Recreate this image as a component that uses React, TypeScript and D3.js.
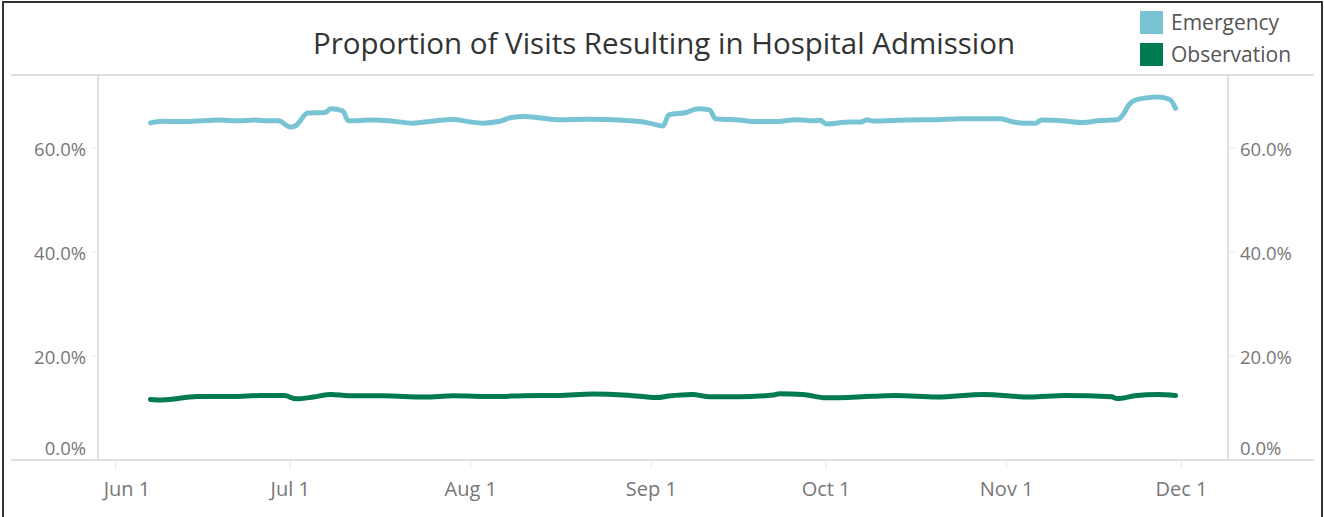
import React from "react";
import * as d3 from "d3";

const W = 1324;
const H = 517;

const title = "Proportion of Visits Resulting in Hospital Admission";
const seriesNames = ["Emergency", "Observation"];
const seriesColors = ["#78c4d5", "#007a53"];

// [date, percent]
const emergency: [string, number][] = [
  ["2021-06-07", 64.8], ["2021-06-09", 65.1], ["2021-06-13", 65.05], ["2021-06-19", 65.35],
  ["2021-06-22", 65.2], ["2021-06-25", 65.35], ["2021-06-27", 65.2], ["2021-06-29", 65.2],
  ["2021-07-01", 64.0], ["2021-07-02", 64.3], ["2021-07-04", 66.7], ["2021-07-07", 66.8],
  ["2021-07-08", 67.5], ["2021-07-10", 67.1], ["2021-07-11", 65.2], ["2021-07-15", 65.35],
  ["2021-07-18", 65.2], ["2021-07-22", 64.75], ["2021-07-26", 65.2], ["2021-07-29", 65.45],
  ["2021-08-01", 64.95], ["2021-08-03", 64.75], ["2021-08-06", 65.1], ["2021-08-08", 65.85],
  ["2021-08-10", 66.0], ["2021-08-13", 65.75], ["2021-08-16", 65.4], ["2021-08-21", 65.5],
  ["2021-08-24", 65.45], ["2021-08-27", 65.3], ["2021-08-30", 65.05], ["2021-09-01", 64.65],
  ["2021-09-03", 64.2], ["2021-09-04", 66.35], ["2021-09-07", 66.8], ["2021-09-09", 67.5],
  ["2021-09-11", 67.3], ["2021-09-12", 65.6], ["2021-09-16", 65.35], ["2021-09-19", 65.05],
  ["2021-09-22", 65.05], ["2021-09-26", 65.4], ["2021-09-29", 65.2], ["2021-09-30", 65.3],
  ["2021-10-01", 64.6], ["2021-10-05", 64.95], ["2021-10-07", 64.95], ["2021-10-08", 65.4],
  ["2021-10-09", 65.15], ["2021-10-15", 65.35], ["2021-10-20", 65.4], ["2021-10-24", 65.6],
  ["2021-10-31", 65.6], ["2021-11-02", 65.0], ["2021-11-04", 64.75], ["2021-11-06", 64.75],
  ["2021-11-07", 65.35], ["2021-11-11", 65.15], ["2021-11-14", 64.85], ["2021-11-17", 65.25],
  ["2021-11-20", 65.4], ["2021-11-21", 66.4], ["2021-11-22", 68.3], ["2021-11-23", 69.15],
  ["2021-11-25", 69.6], ["2021-11-27", 69.75], ["2021-11-29", 69.3], ["2021-11-30", 67.6],
];

const observation: [string, number][] = [
  ["2021-06-07", 11.65], ["2021-06-09", 11.55], ["2021-06-15", 12.2], ["2021-06-21", 12.2],
  ["2021-06-26", 12.4], ["2021-06-30", 12.4], ["2021-07-02", 11.75], ["2021-07-05", 12.1],
  ["2021-07-08", 12.6], ["2021-07-11", 12.35], ["2021-07-17", 12.35], ["2021-07-24", 12.1],
  ["2021-07-29", 12.35], ["2021-08-05", 12.2], ["2021-08-10", 12.35], ["2021-08-16", 12.4],
  ["2021-08-22", 12.7], ["2021-08-28", 12.45], ["2021-09-02", 12.0], ["2021-09-04", 12.3],
  ["2021-09-08", 12.6], ["2021-09-11", 12.15], ["2021-09-16", 12.15], ["2021-09-22", 12.5],
  ["2021-09-23", 12.75], ["2021-09-27", 12.6], ["2021-10-01", 11.95], ["2021-10-09", 12.25],
  ["2021-10-13", 12.4], ["2021-10-20", 12.1], ["2021-10-28", 12.6], ["2021-11-05", 12.1],
  ["2021-11-11", 12.4], ["2021-11-19", 12.15], ["2021-11-20", 11.8], ["2021-11-23", 12.35],
  ["2021-11-27", 12.6], ["2021-11-30", 12.4],
];

const yTicks = [0, 20, 40, 60];
const xTickDates = ["2021-06-01", "2021-07-01", "2021-08-01", "2021-09-01", "2021-10-01", "2021-11-01", "2021-12-01"];

const parse = d3.timeParse("%Y-%m-%d");
const font = "'Open Sans', 'Noto Sans', sans-serif";

export default function App() {
  const left = 98;
  const right = 1228;
  const top = 75;
  const bottom = 460;

  const x = d3
    .scaleTime()
    .domain([parse("2021-05-29")!, parse("2021-12-09")!])
    .range([left, right]);
  const y = d3.scaleLinear().domain([0, 74]).range([bottom, top]);

  const line = d3
    .line<[string, number]>()
    .x((d) => x(parse(d[0])!))
    .y((d) => y(d[1]))
    .curve(d3.curveMonotoneX);

  const fmtX = d3.timeFormat("%b %-d");
  const fmtY = (v: number) => v.toFixed(1) + "%";

  return (
    <svg width={W} height={H} style={{ position: "absolute", left: 0, top: 0, background: "#fff" }}>
      <rect x={3} y={2} width={1319} height={516} fill="#fff" stroke="#333" strokeWidth={2} />

      <text x={664} y={54} textAnchor="middle" fontFamily={font} fontSize={29.5} fill="#333">
        {title}
      </text>

      {/* legend */}
      {seriesNames.map((name, i) => (
        <g key={name} transform={`translate(1140, ${11 + i * 32})`}>
          <rect width={23} height={23} fill={seriesColors[i]} />
          <text x={31} y={19} fontFamily={font} fontSize={21} fill="#555">
            {name}
          </text>
        </g>
      ))}

      {/* frame */}
      <line x1={11} x2={1314} y1={top} y2={top} stroke="#d4d4d4" strokeWidth={1.5} />
      <line x1={11} x2={1314} y1={bottom} y2={bottom} stroke="#d4d4d4" strokeWidth={1.5} />
      <line x1={left} x2={left} y1={top} y2={bottom} stroke="#d4d4d4" strokeWidth={1.5} />
      <line x1={right} x2={right} y1={top} y2={bottom} stroke="#d4d4d4" strokeWidth={1.5} />

      {/* y axes */}
      {yTicks.map((t) => {
        const ty = y(t);
        const ly = t === 0 ? ty - 11 : ty + 1.5;
        return (
          <g key={t}>
            <line x1={left - 8} x2={left} y1={ty} y2={ty} stroke="#eaeaea" />
            <line x1={right} x2={right + 8} y1={ty} y2={ty} stroke="#eaeaea" />
            <text x={86} y={ly} dy="0.35em" textAnchor="end" fontFamily={font} fontSize={18.5} fill="#777">
              {fmtY(t)}
            </text>
            <text x={1240} y={ly} dy="0.35em" textAnchor="start" fontFamily={font} fontSize={18.5} fill="#777">
              {fmtY(t)}
            </text>
          </g>
        );
      })}

      {/* x axis */}
      {xTickDates.map((s) => {
        const d = parse(s)!;
        const tx = x(d);
        const lx = Math.max(tx, left + 29);
        return (
          <g key={s}>
            <line x1={tx} x2={tx} y1={bottom + 1} y2={bottom + 9} stroke="#eaeaea" />
            <text x={lx} y={496} textAnchor="middle" fontFamily={font} fontSize={20} fill="#777">
              {fmtX(d)}
            </text>
          </g>
        );
      })}

      {/* lines */}
      {[emergency, observation].map((data, i) => (
        <path
          key={seriesNames[i]}
          d={line(data) || ""}
          fill="none"
          stroke={seriesColors[i]}
          strokeWidth={5}
          strokeLinecap="round"
          strokeLinejoin="round"
        />
      ))}
    </svg>
  );
}
